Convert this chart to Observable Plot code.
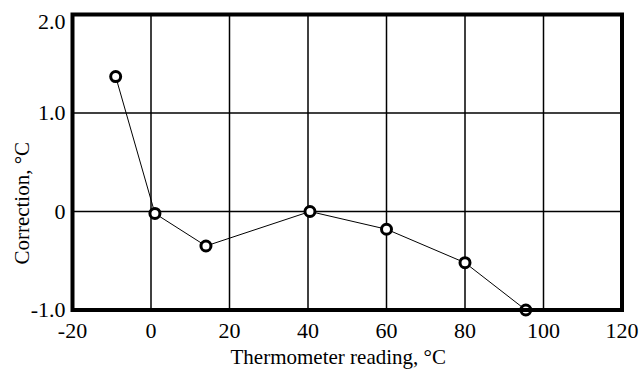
<!DOCTYPE html>
<html>
<head>
<meta charset="utf-8">
<script src="https://cdn.jsdelivr.net/npm/d3@7"></script>
<script src="https://cdn.jsdelivr.net/npm/@observablehq/plot@0.6"></script>
<style>
  html, body { margin: 0; padding: 0; background: #fff; }
  svg { display: block; }
</style>
</head>
<body>
<div id="chart"></div>
<script>
const readings = [-9, 1, 14, 40.5, 60, 80, 95.5];
const corrections = [1.37, -0.02, -0.35, 0.0, -0.18, -0.52, -1.0];
const xTicks = [-20, 0, 20, 40, 60, 80, 100, 120];
const yTicks = [-1, 0, 1, 2];
const xGrid = [0, 20, 40, 60, 80, 100];
const yGrid = [0, 1];
const xLabel = "Thermometer reading, °C";
const yLabel = "Correction, °C";

const data = readings.map((x, i) => ({x, y: corrections[i]}));
const fmtY = d => d === 0 ? "0" : (d < 0 ? "-" + Math.abs(d).toFixed(1) : d.toFixed(1));
const font = "Liberation Serif";

const chart = Plot.plot({
  width: 639,
  height: 371,
  marginLeft: 72,
  marginRight: 17.5,
  marginTop: 14,
  marginBottom: 61.5,
  style: {fontFamily: font, background: "#fff", color: "#000"},
  x: {domain: [-20, 120]},
  y: {domain: [-1, 2]},
  marks: [
    Plot.gridX(xGrid, {stroke: "#000", strokeOpacity: 1, strokeWidth: 1.5}),
    Plot.gridY(yGrid, {stroke: "#000", strokeOpacity: 1, strokeWidth: 1.5}),
    Plot.axisX(xTicks, {tickSize: 0, tickPadding: 12, fontSize: 22, label: null, tickFormat: d => d < 0 ? "-" + Math.abs(d) : String(d)}),
    Plot.axisY(yTicks.filter(d => d !== 2), {tickSize: 0, tickPadding: 7, fontSize: 22, label: null, tickFormat: fmtY}),
    Plot.axisY([2], {tickSize: 0, tickPadding: 7, fontSize: 22, label: null, tickFormat: fmtY, dy: 7}),
    Plot.line(data, {x: "x", y: "y", stroke: "#000", strokeWidth: 1}),
    Plot.dot(data, {x: "x", y: "y", r: 5, stroke: "#000", strokeWidth: 3, fill: "#fff"}),
    Plot.frame({stroke: "#000", strokeWidth: 4}),
    Plot.text([xLabel], {frameAnchor: "bottom", dx: -9, dy: 47.5, lineAnchor: "middle", textAnchor: "middle", fontSize: 21, fill: "#000"}),
    Plot.text([yLabel], {frameAnchor: "left", rotate: -90, dx: -50, dy: 41, lineAnchor: "middle", textAnchor: "middle", fontSize: 21, fill: "#000"})
  ]
});
document.getElementById("chart").appendChild(chart);
</script>
</body>
</html>
